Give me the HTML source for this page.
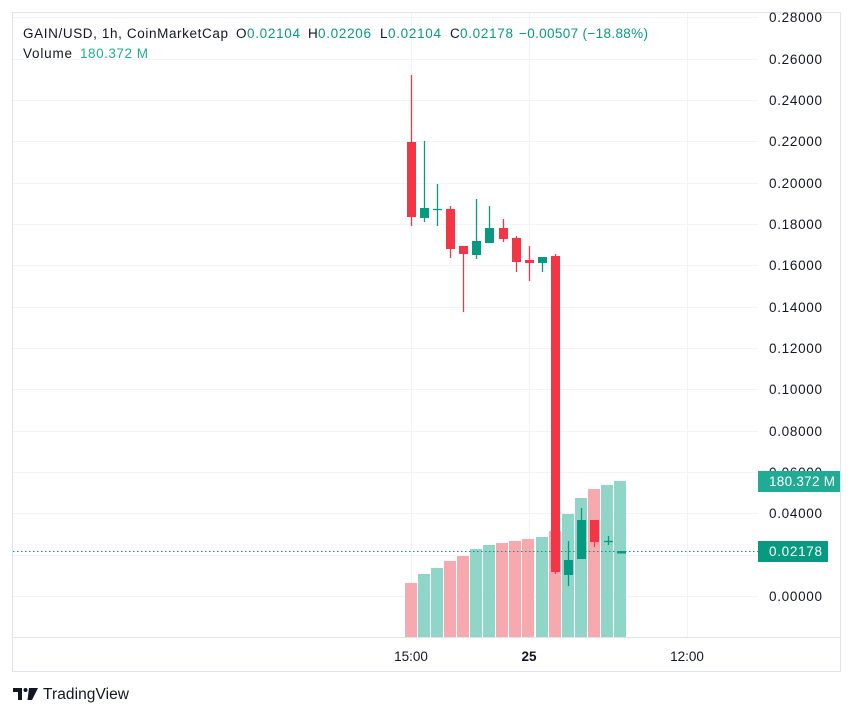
<!DOCTYPE html>
<html><head><meta charset="utf-8"><style>
html,body{margin:0;padding:0;background:#fff;width:854px;height:716px;overflow:hidden}
svg{display:block;font-family:"Liberation Sans",sans-serif}
</style></head><body>
<svg width="854" height="716" viewBox="0 0 854 716" xmlns="http://www.w3.org/2000/svg">
<rect x="12.5" y="12.5" width="828" height="659" fill="#fff" stroke="#e0e3eb"/>
<g stroke="#f0f3fa" stroke-width="1">
<line x1="13" y1="17.5" x2="758" y2="17.5"/><line x1="13" y1="59.5" x2="758" y2="59.5"/>
<line x1="13" y1="100.5" x2="758" y2="100.5"/><line x1="13" y1="141.5" x2="758" y2="141.5"/>
<line x1="13" y1="183.5" x2="758" y2="183.5"/><line x1="13" y1="224.5" x2="758" y2="224.5"/>
<line x1="13" y1="265.5" x2="758" y2="265.5"/><line x1="13" y1="307.5" x2="758" y2="307.5"/>
<line x1="13" y1="348.5" x2="758" y2="348.5"/><line x1="13" y1="389.5" x2="758" y2="389.5"/>
<line x1="13" y1="431.5" x2="758" y2="431.5"/><line x1="13" y1="472.5" x2="758" y2="472.5"/>
<line x1="13" y1="513.5" x2="758" y2="513.5"/><line x1="13" y1="555.5" x2="758" y2="555.5"/>
<line x1="13" y1="596.5" x2="758" y2="596.5"/>
<line x1="411.5" y1="13" x2="411.5" y2="637"/><line x1="529.5" y1="13" x2="529.5" y2="637"/><line x1="687.5" y1="13" x2="687.5" y2="637"/>
</g>
<line x1="13" y1="637.5" x2="840" y2="637.5" stroke="#e0e3eb"/>
<g>
<rect x="405" y="583" width="12" height="54" fill="#f7a9b0"/>
<rect x="418" y="574" width="12" height="63" fill="#8fd5c8"/>
<rect x="431" y="568" width="12" height="69" fill="#8fd5c8"/>
<rect x="444" y="561" width="12" height="76" fill="#f7a9b0"/>
<rect x="457" y="556" width="12" height="81" fill="#f7a9b0"/>
<rect x="470" y="549" width="12" height="88" fill="#8fd5c8"/>
<rect x="483" y="545" width="12" height="92" fill="#8fd5c8"/>
<rect x="496" y="543" width="12" height="94" fill="#f7a9b0"/>
<rect x="509" y="541" width="12" height="96" fill="#f7a9b0"/>
<rect x="522" y="539" width="12" height="98" fill="#f7a9b0"/>
<rect x="536" y="537" width="12" height="100" fill="#8fd5c8"/>
<rect x="549" y="531" width="12" height="106" fill="#f7a9b0"/>
<rect x="562" y="514" width="12" height="123" fill="#8fd5c8"/>
<rect x="575" y="498" width="12" height="139" fill="#8fd5c8"/>
<rect x="588" y="489" width="12" height="148" fill="#f7a9b0"/>
<rect x="601" y="485" width="12" height="152" fill="#8fd5c8"/>
<rect x="614" y="481" width="12" height="156" fill="#8fd5c8"/>
</g>
<line x1="13" y1="551.5" x2="758" y2="551.5" stroke="#089981" stroke-dasharray="1.5 2.5"/>
<g stroke-width="1.3">
<g stroke="#f23645" fill="#f23645"><line x1="411.5" y1="75" x2="411.5" y2="226"/><rect x="407" y="142" width="9" height="75" stroke="none"/></g>
<g stroke="#089981" fill="#089981"><line x1="424.5" y1="141" x2="424.5" y2="222"/><rect x="420" y="208" width="9" height="10" stroke="none"/></g>
<g stroke="#089981" fill="#089981"><line x1="437.5" y1="184" x2="437.5" y2="226"/><line x1="433" y1="209.5" x2="442" y2="209.5"/></g>
<g stroke="#f23645" fill="#f23645"><line x1="450.5" y1="206" x2="450.5" y2="258"/><rect x="446" y="209" width="9" height="40" stroke="none"/></g>
<g stroke="#f23645" fill="#f23645"><line x1="463.5" y1="246" x2="463.5" y2="312"/><rect x="459" y="246" width="9" height="8" stroke="none"/></g>
<g stroke="#089981" fill="#089981"><line x1="476.5" y1="199" x2="476.5" y2="259"/><rect x="472" y="241" width="9" height="14" stroke="none"/></g>
<g stroke="#089981" fill="#089981"><line x1="489.5" y1="206" x2="489.5" y2="243"/><rect x="485" y="228" width="9" height="15" stroke="none"/></g>
<g stroke="#f23645" fill="#f23645"><line x1="503.5" y1="219" x2="503.5" y2="242"/><rect x="499" y="228" width="9" height="11" stroke="none"/></g>
<g stroke="#f23645" fill="#f23645"><line x1="516.5" y1="236" x2="516.5" y2="272"/><rect x="512" y="238" width="9" height="24" stroke="none"/></g>
<g stroke="#f23645" fill="#f23645"><line x1="529.5" y1="246" x2="529.5" y2="281"/><rect x="525" y="260" width="9" height="3" stroke="none"/></g>
<g stroke="#089981" fill="#089981"><line x1="542.5" y1="257" x2="542.5" y2="272"/><rect x="538" y="257" width="9" height="6" stroke="none"/></g>
<g stroke="#f23645" fill="#f23645"><line x1="555.5" y1="254" x2="555.5" y2="574"/><rect x="551" y="256" width="9" height="316" stroke="none"/></g>
<g stroke="#089981" fill="#089981"><line x1="568.5" y1="541" x2="568.5" y2="586"/><rect x="564" y="560" width="9" height="15" stroke="none"/></g>
<g stroke="#089981" fill="#089981"><line x1="581.5" y1="508" x2="581.5" y2="559"/><rect x="577" y="520" width="9" height="39" stroke="none"/></g>
<g stroke="#f23645" fill="#f23645"><line x1="594.5" y1="520" x2="594.5" y2="547"/><rect x="590" y="520" width="9" height="22" stroke="none"/></g>
<g stroke="#089981" fill="#089981"><line x1="608.5" y1="536" x2="608.5" y2="545"/><line x1="604" y1="541.5" x2="613" y2="541.5"/></g>
<g stroke="#089981" fill="#089981"><rect x="617" y="551" width="9" height="2.5" stroke="none"/></g>
</g>
<g font-size="13.5" fill="#131722">
<text x="769" y="22" textLength="53">0.28000</text><text x="769" y="64" textLength="53">0.26000</text><text x="769" y="105" textLength="53">0.24000</text>
<text x="769" y="146" textLength="53">0.22000</text><text x="769" y="188" textLength="53">0.20000</text><text x="769" y="229" textLength="53">0.18000</text>
<text x="769" y="270" textLength="53">0.16000</text><text x="769" y="312" textLength="53">0.14000</text><text x="769" y="353" textLength="53">0.12000</text>
<text x="769" y="394" textLength="53">0.10000</text><text x="769" y="436" textLength="53">0.08000</text><text x="769" y="477" textLength="53">0.06000</text>
<text x="769" y="518" textLength="53">0.04000</text><text x="769" y="601" textLength="53">0.00000</text>
</g>
<rect x="758" y="471" width="82" height="21" fill="#22ab94"/>
<text x="769" y="486" font-size="13.5" fill="#fff" textLength="66">180.372 M</text>
<rect x="758" y="541" width="70" height="21" fill="#089981"/>
<text x="769" y="556" font-size="13.5" fill="#fff" textLength="53">0.02178</text>
<g font-size="13.5" fill="#131722" text-anchor="middle">
<text x="411" y="661">15:00</text><text x="529" y="661" font-weight="bold">25</text><text x="687" y="661">12:00</text>
</g>
<g font-size="13.5" fill="#131722">
<text x="23" y="38" textLength="205">GAIN/USD, 1h, CoinMarketCap</text>
<text x="236" y="38">O</text><text x="247" y="38" fill="#089981" textLength="53">0.02104</text>
<text x="308" y="38">H</text><text x="318" y="38" fill="#089981" textLength="53">0.02206</text>
<text x="380" y="38">L</text><text x="388" y="38" fill="#089981" textLength="53">0.02104</text>
<text x="450" y="38">C</text><text x="460" y="38" fill="#089981" textLength="53">0.02178</text>
<text x="519" y="38" fill="#089981" textLength="129">−0.00507 (−18.88%)</text>
<text x="23" y="58" textLength="49">Volume</text><text x="80" y="58" fill="#22ab94" textLength="68">180.372 M</text>
</g>
<g fill="#131722">
<path d="M13 688h9v12h-4v-8h-5z"/><circle cx="25.5" cy="690" r="2"/><path d="M29 688h9l-6 12h-4.5z"/>
</g>
<text x="43" y="699" font-size="15.5" fill="#131722" textLength="86">TradingView</text>
</svg>
</body></html>
